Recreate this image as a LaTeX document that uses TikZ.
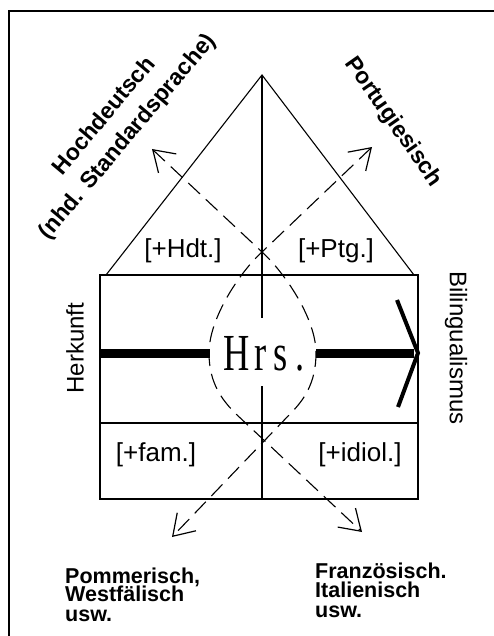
\documentclass[tikz,border=0pt]{standalone}
\usepackage{fontspec}
\setmainfont{Liberation Sans}
\newfontfamily\hrsfont{Liberation Serif}
\usetikzlibrary{arrows.meta}
\tikzset{
  frameline/.style={line width=1.5pt},
  thinline/.style={line width=1.1pt},
  boxline/.style={line width=1.5pt},
  barb/.tip={Straight Barb[length=20pt,width=26pt,line width=1.2pt]},
  dashline/.style={line width=1.1pt, dash pattern=on 16pt off 8pt, barb-barb},
  thickarrow/.style={line width=9pt},
  chev/.style={line width=4pt, line join=miter},
  lab/.style={inner sep=0pt, font=\fontsize{26}{26}\selectfont},
  rotlab/.style={inner sep=0pt, font=\bfseries\fontsize{23}{23}\selectfont},
  sidelab/.style={inner sep=0pt, font=\fontsize{24}{24}\selectfont},
  botlab/.style={inner sep=0pt, anchor=base west, font=\bfseries\fontsize{21.5}{21.5}\selectfont},
}
\begin{document}
\begin{tikzpicture}[x=1pt,y=-1pt]
\useasboundingbox (0,0) rectangle (494,636);
\fill[white] (0,0) rectangle (494,636);
% outer frame
\draw[frameline] (9,636) -- (9,11) -- (494,11);
% coordinates
\coordinate (apex) at (262,75);
\coordinate (bl) at (106,275);
\coordinate (br) at (414,275);
\coordinate (rtl) at (100,275);
\coordinate (rbr) at (418,499);
\coordinate (ml) at (100,423);
\coordinate (mr) at (418,423);
\coordinate (vtop) at (262,318);
\coordinate (vbot) at (262,386);
\coordinate (vend) at (262,499);
% triangle
\draw[thinline] (bl) -- (apex) -- (br);
% rectangle
\draw[boxline] (rtl) rectangle (rbr);
\draw[boxline] (ml) -- (mr);
% vertical center line
\draw[boxline] (apex) -- (vtop);
\draw[boxline] (vbot) -- (vend);
% Hrs.
\node[inner sep=0pt, anchor=base, font=\hrsfont\fontsize{52}{52}\selectfont] (hrs) at (264,370) {\scalebox{0.7}[1]{H\hspace{7pt}r\hspace{9pt}s\hspace{11pt}.}};
% thick arrow
\coordinate (al) at (100,353);
\coordinate (ae) at (210,353);
\coordinate (as) at (316,353);
\coordinate (ar) at (414,353);
\draw[thickarrow] (al) -- (ae);
\draw[thickarrow] (as) -- (ar);
\coordinate (c1) at (397,300);
\coordinate (c2) at (418,353);
\coordinate (c3) at (398,407);
\draw[chev] (c1) -- (c2) -- (c3);
% dashed paths
\coordinate (ul) at (152,149);
\coordinate (ur) at (372,147);
\coordinate (ll) at (172,537);
\coordinate (lr) at (362,532);
\coordinate (xtop) at (262,252);
\draw[dashline] (ul) -- (xtop) .. controls (284,272) and (316,318) .. (316,353)
   .. controls (316,383) and (304,400) .. (290,414) -- (ll);
\draw[dashline] (ur) -- (xtop) .. controls (240,272) and (209,318) .. (209,353)
   .. controls (209,383) and (222,400) .. (236,414) -- (lr);
% bracket labels
\node[lab] (hdt) at (183,251) {[+Hdt.]};
\node[lab] (ptg) at (336,251) {[+Ptg.]};
\node[lab] (fam) at (156,455) {[+fam.]};
\node[lab] (idiol) at (360,455) {[+idiol.]};
% rotated labels
\node[rotlab, rotate=50] (hoch1) at (103,115) {Hochdeutsch};
\node[rotlab, rotate=50] (hoch2) at (128,137) {(nhd. Standardsprache)};
\node[rotlab, rotate=-55] (port) at (393,122) {Portugiesisch};
\node[sidelab, rotate=90] (herk) at (75,348) {Herkunft};
\node[sidelab, rotate=-90] (bil) at (456,348) {Bilingualismus};
% bottom labels
\node[botlab] (pom1) at (65,583) {Pommerisch,};
\node[botlab] (pom2) at (65,601) {Westfälisch};
\node[botlab] (pom3) at (65,621) {usw.};
\node[botlab] (fra1) at (315,578) {Französisch.};
\node[botlab] (fra2) at (315,597) {Italienisch};
\node[botlab] (fra3) at (315,617) {usw.};
\end{tikzpicture}
\end{document}
